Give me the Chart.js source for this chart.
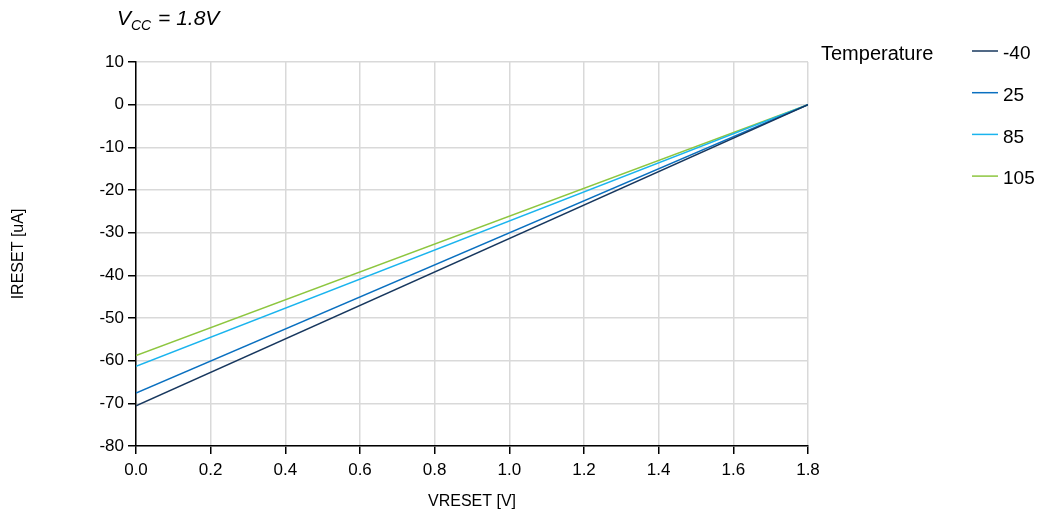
<!DOCTYPE html>
<html>
<head>
<meta charset="utf-8">
<script src="https://cdn.jsdelivr.net/npm/chart.js@4.4.1/dist/chart.umd.min.js"></script>
<style>
    html, body { margin: 0; padding: 0; background: #fff; }
    #wrap { position: relative; width: 1042px; height: 516px; }
</style>
</head>
<body>
<div id="wrap"><canvas id="chartLine"></canvas></div>
<script>
// x values (VRESET, V)
const vreset = [0, 1.8];
// legend labels
const temps = ['-40', '25', '85', '105'];
// IRESET (uA) per temperature
const iresetM40 = [-70.6, 0];
const ireset25 = [-67.6, 0];
const ireset85 = [-61.3, 0];
const ireset105 = [-58.8, 0];
const colors = ['#17375e', '#0a70c0', '#1ab4ee', '#8dc63f'];

const font = 'Liberation Sans, Arial, sans-serif';

const toPoints = (ys) => vreset.map((x, i) => ({ x: x, y: ys[i] }));

//legend + title drawn on canvas
const extras = {
    id: 'extras',
    afterDraw: function(chart) {
        const ctx = chart.ctx;
        ctx.save();
        ctx.fillStyle = '#000';
        ctx.textBaseline = 'alphabetic';
        ctx.textAlign = 'left';
        // V_CC = 1.8V
        let x = 117;
        ctx.font = 'italic 21px ' + font;
        ctx.fillText('V', x, 25);
        x += ctx.measureText('V').width;
        ctx.font = 'italic 14px ' + font;
        ctx.fillText('CC', x, 30);
        x += ctx.measureText('CC').width + 1;
        ctx.font = 'italic 21px ' + font;
        ctx.fillText(' = 1.8V', x, 25);

        // legend
        ctx.textBaseline = 'middle';
        ctx.font = '20px ' + font;
        ctx.fillText('Temperature', 821, 54);
        ctx.font = '19px ' + font;
        chart.data.datasets.forEach((ds, i) => {
            const y = 51 + i * 41.7;
            ctx.strokeStyle = ds.borderColor;
            ctx.lineWidth = 1.5;
            ctx.beginPath();
            ctx.moveTo(972, y);
            ctx.lineTo(998, y);
            ctx.stroke();
            ctx.fillText(ds.label, 1003, y + 3);
        });
        ctx.restore();
    }
};

const data = {
    datasets: [iresetM40, ireset25, ireset85, ireset105].map((ys, i) => ({
        label: temps[i],
        data: toPoints(ys),
        borderColor: colors[i],
        backgroundColor: colors[i],
        borderWidth: 1.5,
        showLine: true,
        pointRadius: 0,
        fill: false
    }))
};

const config = {
    type: 'scatter',
    data,
    options: {
        responsive: false,
        animation: false,
        layout: {
            padding: { left: 0, top: 62, right: 234, bottom: 0 }
        },
        scales: {
            x: {
                type: 'linear',
                min: 0,
                max: 1.8,
                afterFit: (scale) => { scale.height = 70; },
                grid: {
                    color: '#d9d9d9',
                    tickColor: '#000',
                    tickLength: 8,
                    lineWidth: 1.5
                },
                border: { color: '#000', width: 1.5 },
                ticks: {
                    stepSize: 0.2,
                    color: '#000',
                    padding: 6,
                    maxRotation: 0,
                    font: { family: font, size: 17 },
                    callback: (v) => v.toFixed(1)
                },
                title: {
                    display: true,
                    text: 'VRESET [V]',
                    color: '#000',
                    font: { family: font, size: 16 },
                    padding: { top: 0, bottom: 5 }
                }
            },
            y: {
                type: 'linear',
                min: -80,
                max: 10,
                afterFit: (scale) => { scale.width = 136; },
                grid: {
                    color: '#d9d9d9',
                    tickColor: '#000',
                    tickLength: 8,
                    lineWidth: 1.5
                },
                border: { color: '#000', width: 1.5 },
                ticks: {
                    stepSize: 10,
                    color: '#000',
                    padding: 4,
                    font: { family: font, size: 17 }
                },
                title: {
                    display: true,
                    text: 'IRESET [uA]',
                    color: '#000',
                    font: { family: font, size: 16 },
                    padding: { top: 9, bottom: 0 }
                }
            }
        },
        plugins: {
            legend: { display: false },
            tooltip: { enabled: false }
        }
    },
    plugins: [extras]
};

const canvas = document.getElementById('chartLine');
canvas.width = 1042;
canvas.height = 516;
new Chart(canvas, config);
</script>
</body>
</html>
